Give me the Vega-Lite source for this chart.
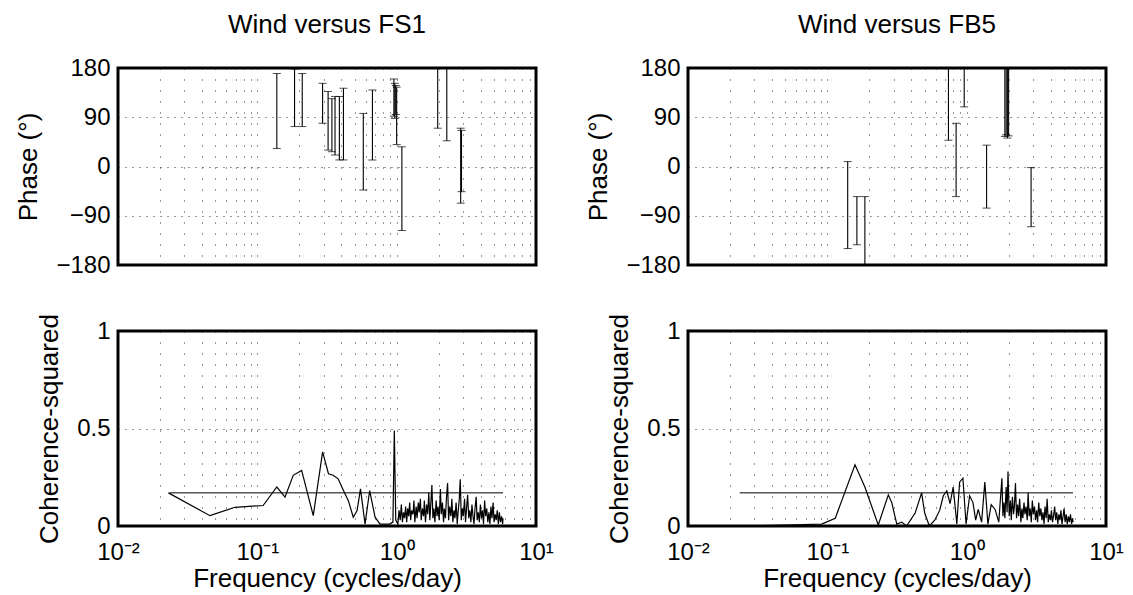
{
  "$schema": "https://vega.github.io/schema/vega-lite/v6.json",
  "padding": {"left": 14, "top": 10, "right": 5, "bottom": 0},
  "background": "white",
  "bounds": "flush",
  "columns": 2,
  "spacing": {"row": 66, "column": 152},
  "datasets": {
    "phase_fs1": [
      {"f": 0.138, "lo": 33, "hi": 170},
      {"f": 0.185, "lo": 73, "hi": 178},
      {"f": 0.21, "lo": 73, "hi": 170},
      {"f": 0.294, "lo": 79, "hi": 152},
      {"f": 0.322, "lo": 30, "hi": 137},
      {"f": 0.343, "lo": 27, "hi": 124},
      {"f": 0.361, "lo": 21, "hi": 128},
      {"f": 0.388, "lo": 12, "hi": 128},
      {"f": 0.415, "lo": 12, "hi": 143},
      {"f": 0.576, "lo": -43, "hi": 97},
      {"f": 0.67, "lo": 12, "hi": 140},
      {"f": 0.955, "lo": 92, "hi": 160},
      {"f": 0.97, "lo": 88, "hi": 152},
      {"f": 0.985, "lo": 95, "hi": 148},
      {"f": 1.0, "lo": 40, "hi": 145},
      {"f": 1.09, "lo": -117, "hi": 36},
      {"f": 1.97, "lo": 70, "hi": 180},
      {"f": 2.29, "lo": 47, "hi": 180},
      {"f": 2.88, "lo": -67, "hi": 70},
      {"f": 2.92, "lo": -46, "hi": 66}
    ],
    "phase_fb5": [
      {"f": 0.14, "lo": -150, "hi": 9},
      {"f": 0.163, "lo": -143, "hi": -55},
      {"f": 0.186, "lo": -180, "hi": -55},
      {"f": 0.74, "lo": 48, "hi": 180},
      {"f": 0.84, "lo": -55, "hi": 79},
      {"f": 0.96, "lo": 109, "hi": 180},
      {"f": 1.39, "lo": -76, "hi": 39},
      {"f": 1.88, "lo": 55, "hi": 180},
      {"f": 1.92, "lo": 58, "hi": 180},
      {"f": 1.96, "lo": 52, "hi": 180},
      {"f": 2.0, "lo": 56, "hi": 180},
      {"f": 2.9, "lo": -110, "hi": -2}
    ],
    "coh_fs1": [
      {"f": 0.023, "c": 0.17}, {"f": 0.0457, "c": 0.053}, {"f": 0.069, "c": 0.096},
      {"f": 0.11, "c": 0.105}, {"f": 0.138, "c": 0.2}, {"f": 0.158, "c": 0.148},
      {"f": 0.181, "c": 0.26}, {"f": 0.208, "c": 0.285}, {"f": 0.252, "c": 0.053},
      {"f": 0.294, "c": 0.38}, {"f": 0.324, "c": 0.268}, {"f": 0.35, "c": 0.26},
      {"f": 0.38, "c": 0.242}, {"f": 0.415, "c": 0.182}, {"f": 0.45, "c": 0.13},
      {"f": 0.488, "c": 0.045}, {"f": 0.52, "c": 0.079}, {"f": 0.55, "c": 0.19},
      {"f": 0.593, "c": 0.01}, {"f": 0.64, "c": 0.182}, {"f": 0.7, "c": 0.045},
      {"f": 0.76, "c": 0.01}, {"f": 0.89, "c": 0.01}, {"f": 0.94, "c": 0.02},
      {"f": 0.962, "c": 0.49}, {"f": 0.985, "c": 0.03},
      {"f": 1.02, "c": 0.01}, {"f": 1.04, "c": 0.08}, {"f": 1.06, "c": 0.03}, {"f": 1.08, "c": 0.11},
      {"f": 1.1, "c": 0.02}, {"f": 1.12, "c": 0.07}, {"f": 1.14, "c": 0.04}, {"f": 1.16, "c": 0.1},
      {"f": 1.18, "c": 0.02}, {"f": 1.2, "c": 0.09}, {"f": 1.22, "c": 0.05}, {"f": 1.24, "c": 0.12},
      {"f": 1.26, "c": 0.03}, {"f": 1.28, "c": 0.08}, {"f": 1.31, "c": 0.06}, {"f": 1.33, "c": 0.13},
      {"f": 1.35, "c": 0.02}, {"f": 1.38, "c": 0.1}, {"f": 1.4, "c": 0.04}, {"f": 1.43, "c": 0.12},
      {"f": 1.45, "c": 0.07}, {"f": 1.48, "c": 0.14}, {"f": 1.5, "c": 0.03}, {"f": 1.53, "c": 0.09},
      {"f": 1.56, "c": 0.05}, {"f": 1.58, "c": 0.13}, {"f": 1.61, "c": 0.02}, {"f": 1.64, "c": 0.11},
      {"f": 1.67, "c": 0.06}, {"f": 1.7, "c": 0.17}, {"f": 1.73, "c": 0.03}, {"f": 1.76, "c": 0.12},
      {"f": 1.79, "c": 0.21}, {"f": 1.82, "c": 0.04}, {"f": 1.85, "c": 0.09}, {"f": 1.88, "c": 0.02},
      {"f": 1.92, "c": 0.13}, {"f": 1.95, "c": 0.05}, {"f": 1.98, "c": 0.1}, {"f": 2.02, "c": 0.03},
      {"f": 2.06, "c": 0.19}, {"f": 2.09, "c": 0.06}, {"f": 2.13, "c": 0.12}, {"f": 2.17, "c": 0.02},
      {"f": 2.2, "c": 0.09}, {"f": 2.24, "c": 0.04}, {"f": 2.28, "c": 0.15}, {"f": 2.32, "c": 0.22},
      {"f": 2.36, "c": 0.03}, {"f": 2.4, "c": 0.1}, {"f": 2.45, "c": 0.05}, {"f": 2.49, "c": 0.14},
      {"f": 2.53, "c": 0.02}, {"f": 2.58, "c": 0.08}, {"f": 2.62, "c": 0.04}, {"f": 2.67, "c": 0.12},
      {"f": 2.72, "c": 0.01}, {"f": 2.76, "c": 0.07}, {"f": 2.81, "c": 0.13}, {"f": 2.86, "c": 0.24},
      {"f": 2.91, "c": 0.03}, {"f": 2.96, "c": 0.09}, {"f": 3.01, "c": 0.05}, {"f": 3.07, "c": 0.14},
      {"f": 3.12, "c": 0.02}, {"f": 3.18, "c": 0.1}, {"f": 3.23, "c": 0.16}, {"f": 3.29, "c": 0.04},
      {"f": 3.35, "c": 0.08}, {"f": 3.41, "c": 0.02}, {"f": 3.47, "c": 0.11}, {"f": 3.53, "c": 0.05},
      {"f": 3.59, "c": 0.01}, {"f": 3.65, "c": 0.09}, {"f": 3.72, "c": 0.15}, {"f": 3.78, "c": 0.03},
      {"f": 3.85, "c": 0.07}, {"f": 3.92, "c": 0.02}, {"f": 3.99, "c": 0.11}, {"f": 4.06, "c": 0.04},
      {"f": 4.13, "c": 0.08}, {"f": 4.2, "c": 0.01}, {"f": 4.28, "c": 0.13}, {"f": 4.35, "c": 0.05},
      {"f": 4.43, "c": 0.09}, {"f": 4.51, "c": 0.02}, {"f": 4.59, "c": 0.07}, {"f": 4.67, "c": 0.01},
      {"f": 4.75, "c": 0.1}, {"f": 4.83, "c": 0.04}, {"f": 4.92, "c": 0.12}, {"f": 5.0, "c": 0.02},
      {"f": 5.09, "c": 0.06}, {"f": 5.18, "c": 0.03}, {"f": 5.27, "c": 0.08}, {"f": 5.37, "c": 0.01},
      {"f": 5.46, "c": 0.07}, {"f": 5.56, "c": 0.02}, {"f": 5.66, "c": 0.05}, {"f": 5.76, "c": 0.01},
      {"f": 5.8, "c": 0.04}
    ],
    "coh_fb5": [
      {"f": 0.0236, "c": 0.0}, {"f": 0.05, "c": 0.005}, {"f": 0.091, "c": 0.01},
      {"f": 0.114, "c": 0.04}, {"f": 0.158, "c": 0.314}, {"f": 0.186, "c": 0.2},
      {"f": 0.232, "c": 0.005}, {"f": 0.274, "c": 0.16}, {"f": 0.29, "c": 0.12},
      {"f": 0.315, "c": 0.01}, {"f": 0.342, "c": 0.02}, {"f": 0.37, "c": 0.0},
      {"f": 0.426, "c": 0.065}, {"f": 0.475, "c": 0.17}, {"f": 0.5, "c": 0.065},
      {"f": 0.54, "c": 0.0}, {"f": 0.59, "c": 0.03}, {"f": 0.64, "c": 0.08},
      {"f": 0.68, "c": 0.155}, {"f": 0.72, "c": 0.18}, {"f": 0.76, "c": 0.115},
      {"f": 0.8, "c": 0.2}, {"f": 0.85, "c": 0.01}, {"f": 0.89, "c": 0.225},
      {"f": 0.94, "c": 0.245}, {"f": 0.99, "c": 0.01}, {"f": 1.05, "c": 0.155},
      {"f": 1.11, "c": 0.12}, {"f": 1.16, "c": 0.03}, {"f": 1.21, "c": 0.085}, {"f": 1.28, "c": 0.02},
      {"f": 1.35, "c": 0.225}, {"f": 1.42, "c": 0.01}, {"f": 1.5, "c": 0.11}, {"f": 1.6, "c": 0.085},
      {"f": 1.7, "c": 0.02}, {"f": 1.79, "c": 0.245},
      {"f": 1.82, "c": 0.05}, {"f": 1.85, "c": 0.12}, {"f": 1.88, "c": 0.04}, {"f": 1.92, "c": 0.2},
      {"f": 1.95, "c": 0.07}, {"f": 1.98, "c": 0.28}, {"f": 2.02, "c": 0.05}, {"f": 2.06, "c": 0.13},
      {"f": 2.09, "c": 0.03}, {"f": 2.13, "c": 0.15}, {"f": 2.17, "c": 0.06}, {"f": 2.2, "c": 0.1},
      {"f": 2.24, "c": 0.22}, {"f": 2.28, "c": 0.04}, {"f": 2.32, "c": 0.11}, {"f": 2.36, "c": 0.05},
      {"f": 2.4, "c": 0.14}, {"f": 2.45, "c": 0.02}, {"f": 2.49, "c": 0.09}, {"f": 2.53, "c": 0.04},
      {"f": 2.58, "c": 0.12}, {"f": 2.62, "c": 0.06}, {"f": 2.67, "c": 0.1}, {"f": 2.72, "c": 0.03},
      {"f": 2.76, "c": 0.17}, {"f": 2.81, "c": 0.05}, {"f": 2.86, "c": 0.09}, {"f": 2.91, "c": 0.02},
      {"f": 2.96, "c": 0.13}, {"f": 3.01, "c": 0.06}, {"f": 3.07, "c": 0.1}, {"f": 3.12, "c": 0.03},
      {"f": 3.18, "c": 0.08}, {"f": 3.23, "c": 0.02}, {"f": 3.29, "c": 0.12}, {"f": 3.35, "c": 0.05},
      {"f": 3.41, "c": 0.09}, {"f": 3.47, "c": 0.03}, {"f": 3.53, "c": 0.07}, {"f": 3.59, "c": 0.01},
      {"f": 3.65, "c": 0.1}, {"f": 3.72, "c": 0.04}, {"f": 3.78, "c": 0.14}, {"f": 3.85, "c": 0.02},
      {"f": 3.92, "c": 0.06}, {"f": 3.99, "c": 0.03}, {"f": 4.06, "c": 0.08}, {"f": 4.13, "c": 0.02},
      {"f": 4.2, "c": 0.05}, {"f": 4.28, "c": 0.1}, {"f": 4.35, "c": 0.03}, {"f": 4.43, "c": 0.07},
      {"f": 4.51, "c": 0.01}, {"f": 4.59, "c": 0.06}, {"f": 4.67, "c": 0.03}, {"f": 4.75, "c": 0.08},
      {"f": 4.83, "c": 0.01}, {"f": 4.92, "c": 0.05}, {"f": 5.0, "c": 0.09}, {"f": 5.09, "c": 0.02},
      {"f": 5.18, "c": 0.06}, {"f": 5.27, "c": 0.01}, {"f": 5.37, "c": 0.05}, {"f": 5.46, "c": 0.02},
      {"f": 5.56, "c": 0.06}, {"f": 5.66, "c": 0.01}, {"f": 5.76, "c": 0.04}, {"f": 5.8, "c": 0.02}
    ],
    "thr": [{"f1": 0.0235, "f2": 5.8, "c": 0.17}]
  },
  "concat": [
    {
      "width": 418, "height": 197,
      "title": {"text": "Wind versus FS1", "anchor": "middle", "offset": 18},
      "data": {"name": "phase_fs1"},
      "layer": [
        {"mark": {"type": "rule", "color": "black", "strokeWidth": 1.1, "clip": true},
         "encoding": {
           "x": {"field": "f", "type": "quantitative", "scale": {"type": "log", "domain": [0.01, 10], "nice": false},
                 "axis": {"grid": true, "labels": false, "title": null, "values": [0.01,0.02,0.03,0.04,0.05,0.06,0.07,0.08,0.09,0.1,0.2,0.3,0.4,0.5,0.6,0.7,0.8,0.9,1,2,3,4,5,6,7,8,9,10]}},
           "y": {"field": "lo", "type": "quantitative", "scale": {"domain": [-180, 180], "nice": false},
                 "axis": {"title": "Phase (°)", "values": [-180, -90, 0, 90, 180], "format": "d", "grid": true}},
           "y2": {"field": "hi"}
         }},
        {"mark": {"type": "tick", "orient": "horizontal", "size": 8, "thickness": 1, "color": "black", "clip": true},
         "encoding": {"x": {"field": "f", "type": "quantitative"}, "y": {"field": "lo", "type": "quantitative"}}},
        {"mark": {"type": "tick", "orient": "horizontal", "size": 8, "thickness": 1, "color": "black", "clip": true},
         "encoding": {"x": {"field": "f", "type": "quantitative"}, "y": {"field": "hi", "type": "quantitative"}}}
      ]
    },
    {
      "width": 418, "height": 197,
      "title": {"text": "Wind versus FB5", "anchor": "middle", "offset": 18},
      "data": {"name": "phase_fb5"},
      "layer": [
        {"mark": {"type": "rule", "color": "black", "strokeWidth": 1.1, "clip": true},
         "encoding": {
           "x": {"field": "f", "type": "quantitative", "scale": {"type": "log", "domain": [0.01, 10], "nice": false},
                 "axis": {"grid": true, "labels": false, "title": null, "values": [0.01,0.02,0.03,0.04,0.05,0.06,0.07,0.08,0.09,0.1,0.2,0.3,0.4,0.5,0.6,0.7,0.8,0.9,1,2,3,4,5,6,7,8,9,10]}},
           "y": {"field": "lo", "type": "quantitative", "scale": {"domain": [-180, 180], "nice": false},
                 "axis": {"title": "Phase (°)", "values": [-180, -90, 0, 90, 180], "format": "d", "grid": true}},
           "y2": {"field": "hi"}
         }},
        {"mark": {"type": "tick", "orient": "horizontal", "size": 8, "thickness": 1, "color": "black", "clip": true},
         "encoding": {"x": {"field": "f", "type": "quantitative"}, "y": {"field": "lo", "type": "quantitative"}}},
        {"mark": {"type": "tick", "orient": "horizontal", "size": 8, "thickness": 1, "color": "black", "clip": true},
         "encoding": {"x": {"field": "f", "type": "quantitative"}, "y": {"field": "hi", "type": "quantitative"}}}
      ]
    },
    {
      "width": 418, "height": 195,
      "layer": [
        {"data": {"name": "coh_fs1"},
         "mark": {"type": "line", "color": "black", "strokeWidth": 1.2, "clip": true},
         "encoding": {
           "x": {"field": "f", "type": "quantitative", "scale": {"type": "log", "domain": [0.01, 10], "nice": false},
                 "axis": {"grid": true, "title": "Frequency (cycles/day)", "labelFlush": false, "labelOverlap": false, "labelPadding": 14, "titlePadding": 1,
                          "values": [0.01,0.02,0.03,0.04,0.05,0.06,0.07,0.08,0.09,0.1,0.2,0.3,0.4,0.5,0.6,0.7,0.8,0.9,1,2,3,4,5,6,7,8,9,10],
                          "labelExpr": "datum.value == 0.01 ? '10⁻²' : datum.value == 0.1 ? '10⁻¹' : datum.value == 1 ? '10⁰' : datum.value == 10 ? '10¹' : ''"}},
           "y": {"field": "c", "type": "quantitative", "scale": {"domain": [0, 1], "nice": false},
                 "axis": {"title": "Coherence-squared", "values": [0, 0.5, 1], "format": "~g", "grid": true}}
         }},
        {"data": {"name": "thr"},
         "mark": {"type": "rule", "color": "black", "strokeWidth": 1},
         "encoding": {"x": {"field": "f1", "type": "quantitative"}, "x2": {"field": "f2"}, "y": {"field": "c", "type": "quantitative"}}}
      ]
    },
    {
      "width": 418, "height": 195,
      "layer": [
        {"data": {"name": "coh_fb5"},
         "mark": {"type": "line", "color": "black", "strokeWidth": 1.2, "clip": true},
         "encoding": {
           "x": {"field": "f", "type": "quantitative", "scale": {"type": "log", "domain": [0.01, 10], "nice": false},
                 "axis": {"grid": true, "title": "Frequency (cycles/day)", "labelFlush": false, "labelOverlap": false, "labelPadding": 14, "titlePadding": 1,
                          "values": [0.01,0.02,0.03,0.04,0.05,0.06,0.07,0.08,0.09,0.1,0.2,0.3,0.4,0.5,0.6,0.7,0.8,0.9,1,2,3,4,5,6,7,8,9,10],
                          "labelExpr": "datum.value == 0.01 ? '10⁻²' : datum.value == 0.1 ? '10⁻¹' : datum.value == 1 ? '10⁰' : datum.value == 10 ? '10¹' : ''"}},
           "y": {"field": "c", "type": "quantitative", "scale": {"domain": [0, 1], "nice": false},
                 "axis": {"title": "Coherence-squared", "values": [0, 0.5, 1], "format": "~g", "grid": true}}
         }},
        {"data": {"name": "thr"},
         "mark": {"type": "rule", "color": "black", "strokeWidth": 1},
         "encoding": {"x": {"field": "f1", "type": "quantitative"}, "x2": {"field": "f2"}, "y": {"field": "c", "type": "quantitative"}}}
      ]
    }
  ],
  "config": {
    "font": "Liberation Sans",
    "view": {"stroke": "black", "strokeWidth": 3},
    "axis": {"domain": false, "ticks": false, "labelFontSize": 24, "titleFontSize": 26, "titleFontWeight": "normal",
             "labelColor": "black", "titleColor": "black", "gridColor": "black", "gridOpacity": 0.8, "gridWidth": 1,
             "labelPadding": 8, "titlePadding": 14},
    "axisX": {"gridDash": [1, 10]},
    "axisY": {"gridDash": [1, 6]},
    "title": {"fontSize": 26, "fontWeight": "normal", "color": "black"}
  }
}
